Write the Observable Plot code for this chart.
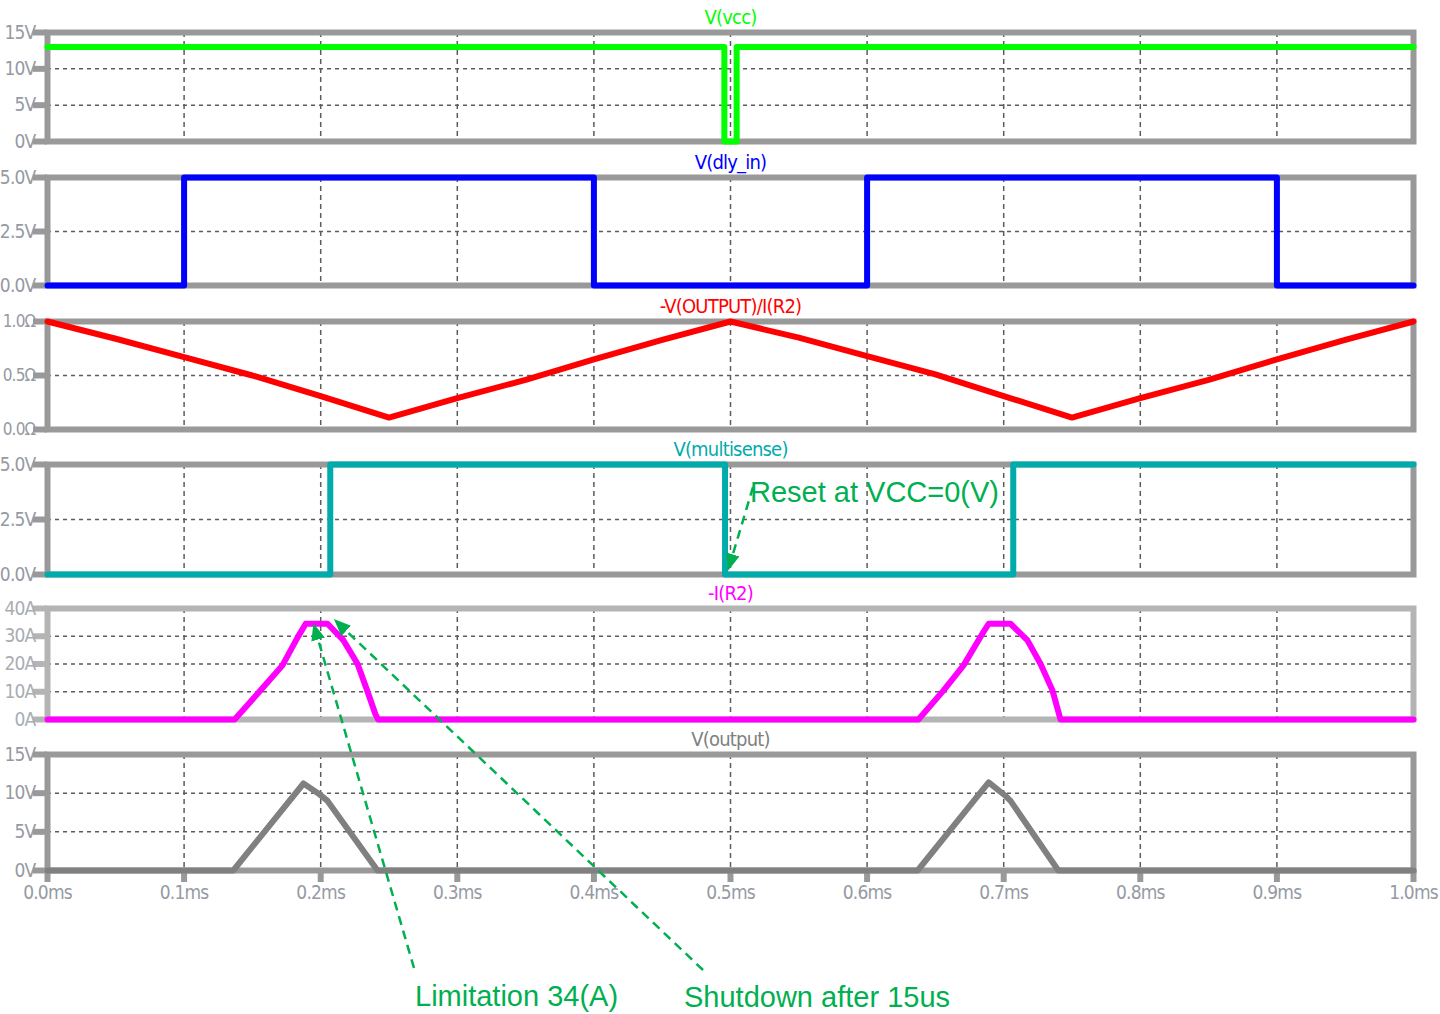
<!DOCTYPE html>
<html><head><meta charset="utf-8">
<script src="https://cdn.jsdelivr.net/npm/d3@7"></script>
<script src="https://cdn.jsdelivr.net/npm/@observablehq/plot@0.6"></script>
<style>
body{margin:0;background:#fff;}
#root{position:relative;width:1440px;height:1014px;overflow:hidden;background:#fff;}
#root svg{position:absolute;left:0;}
</style></head><body><div id="root"></div>
<script>
// ---------- data ----------
const xTicks = [0,0.1,0.2,0.3,0.4,0.5,0.6,0.7,0.8,0.9,1.0];
const xTickLabels = ["0.0ms","0.1ms","0.2ms","0.3ms","0.4ms","0.5ms","0.6ms","0.7ms","0.8ms","0.9ms","1.0ms"];

// V(vcc)
const vccT = [0, 0.4955, 0.5045, 1.0];
const vccV = [13, 0, 13, 13];
const vccTicks = [0, 5, 10, 15];
const vccLabels = ["0V", "5V", "10V", "15V"];

// V(dly_in)
const dlyT = [0, 0.1, 0.4, 0.6, 0.9, 1.0];
const dlyV = [0, 5, 0, 5, 0, 0];
const dlyTicks = [0, 2.5, 5];
const dlyLabels = ["0.0V", "2.5V", "5.0V"];

// -V(OUTPUT)/I(R2)
const resT = [0,0.05,0.1,0.15,0.2,0.25,0.3,0.35,0.4,0.45,0.5,0.55,0.6,0.65,0.7,0.75,0.8,0.85,0.9,0.95,1.0];
const resV = [1.0,0.84,0.67,0.5,0.31,0.11,0.29,0.46,0.65,0.83,1.0,0.85,0.68,0.51,0.31,0.11,0.29,0.46,0.65,0.83,1.0];
const resTicks = [0, 0.5, 1];
const resLabels = ["0.0Ω", "0.5Ω", "1.0Ω"];

// V(multisense)
const msT = [0, 0.207, 0.496, 0.707, 1.0];
const msV = [0, 5, 0, 5, 5];
const msTicks = [0, 2.5, 5];
const msLabels = ["0.0V", "2.5V", "5.0V"];

// -I(R2)
const iT = [0,0.137,0.156,0.172,0.183,0.189,0.205,0.2167,0.227,0.234,0.240,0.242,0.6376,0.656,0.6706,0.6845,0.689,0.705,0.7174,0.727,0.7357,0.7416,1.0];
const iV = [0,0,10.5,19.5,29.5,34.5,34.5,28.5,20,10.5,2,0,0,10.5,19.5,31,34.5,34.5,28.5,20,10.5,0,0];
const iTicks = [0, 10, 20, 30, 40];
const iLabels = ["0A", "10A", "20A", "30A", "40A"];

// V(output)
const voT = [0,0.136,0.1874,0.198,0.205,0.2416,0.637,0.689,0.701,0.705,0.740,1.0];
const voV = [0,0,11.25,10,9,0,0,11.4,9.7,9,0,0];
const voTicks = [0, 5, 10, 15];
const voLabels = ["0V", "5V", "10V", "15V"];

// annotations
const annTexts = ["Reset at VCC=0(V)", "Limitation 34(A)", "Shutdown after 15us"];
const annTipPanel = [3, 4, 4];
const annTipT = [0.4985, 0.195, 0.210];
const annTipV = [0.15, 34.5, 36];

// ---------- layout ----------
const FONT = "'Liberation Sans Narrow','DejaVu Sans Condensed','DejaVu Sans',sans-serif";
const GREEN = "#00b050";
const panels = [
  {title:"V(vcc)", color:"#00ff00", T:vccT, V:vccV, curve:"step-after", domain:[0,15], ticks:vccTicks, labels:vccLabels, top:32, bottom:141},
  {title:"V(dly_in)", color:"#0000ff", T:dlyT, V:dlyV, curve:"step-after", domain:[0,5], ticks:dlyTicks, labels:dlyLabels, top:177, bottom:285},
  {title:"-V(OUTPUT)/I(R2)", color:"#ff0000", T:resT, V:resV, curve:"linear", domain:[0,1], ticks:resTicks, labels:resLabels, top:321, bottom:429, tickFont:17},
  {title:"V(multisense)", color:"#00abab", T:msT, V:msV, curve:"step-after", domain:[0,5], ticks:msTicks, labels:msLabels, top:464, bottom:574},
  {title:"-I(R2)", color:"#ff00ff", T:iT, V:iV, curve:"linear", domain:[0,40], ticks:iTicks, labels:iLabels, top:608, bottom:719, frame:"#b4b4b4", label:"#a9adb5"},
  {title:"V(output)", color:"#808080", T:voT, V:voV, curve:"linear", domain:[0,15], ticks:voTicks, labels:voLabels, top:754, bottom:870, last:true}
];

const root = document.getElementById("root");
const plots = [];
const svgTops = [];
panels.forEach(p => {
  const mt = 30, mb = p.last ? 46 : 6;
  const frameColor = p.frame || "#999999";
  const labelColor = p.label || "#959aa4";
  const data = p.T.map((t, i) => ({t, v: p.V[i]}));
  const inner = p.ticks.filter(d => d !== p.domain[0] && d !== p.domain[1]);
  const plot = Plot.plot({
    width: 1440, height: mt + (p.bottom - p.top) + mb,
    marginLeft: 47, marginRight: 27, marginTop: mt, marginBottom: mb,
    x: {domain: [0, 1], axis: null},
    y: {domain: p.domain, axis: null},
    style: {fontFamily: FONT, fontSize: "19px", fontStretch: "condensed", letterSpacing: "-0.8px",
            background: "transparent", overflow: "visible"},
    marks: [
      Plot.gridX(xTicks.slice(1, -1), {stroke: "#5c5c5c", strokeOpacity: 1, strokeWidth: 1.5, strokeDasharray: "5,4"}),
      Plot.gridY(inner, {stroke: "#5c5c5c", strokeOpacity: 1, strokeWidth: 1.5, strokeDasharray: "4,4"}),
      Plot.frame({stroke: frameColor, strokeWidth: 6}),
      Plot.axisY(p.ticks, {label: null, tickSize: 14, tickPadding: -2, tickFormat: d => p.labels[p.ticks.indexOf(d)],
        stroke: frameColor, strokeWidth: 6, fill: labelColor, fontSize: p.tickFont || 19}),
      p.last ? Plot.axisX(xTicks, {label: null, tickSize: 12, tickPadding: 3, tickFormat: d => xTickLabels[xTicks.indexOf(d)],
        stroke: frameColor, strokeWidth: 6, fill: labelColor, fontSize: 19}) : null,
      Plot.line(data, {x: "t", y: "v", stroke: p.color, strokeWidth: 6, curve: p.curve}),
      Plot.text([p.title], {text: d => d, frameAnchor: "top", lineAnchor: "middle", dy: -15, fill: p.color, fontSize: 20})
    ]
  });
  const top = p.top - mt;
  plot.style.top = top + "px";
  root.appendChild(plot);
  plots.push(plot);
  svgTops.push(top);
});

// ---------- annotation overlay ----------
const tails = [[753, 487], [414, 968], [703, 970]];
const textPos = [[750, 502], [415, 1006], [684, 1007]];
const ann = d3.create("svg").attr("width", 1440).attr("height", 1014)
  .style("top", "0px").style("pointer-events", "none");
ann.append("defs").append("marker")
  .attr("id", "ah").attr("markerUnits", "userSpaceOnUse")
  .attr("markerWidth", 18).attr("markerHeight", 14)
  .attr("refX", 17).attr("refY", 7).attr("orient", "auto")
  .append("path").attr("d", "M0,0 L17,7 L0,14 Z").attr("fill", GREEN);
annTexts.forEach((txt, i) => {
  const pl = plots[annTipPanel[i]];
  const tx = pl.scale("x").apply(annTipT[i]);
  const ty = pl.scale("y").apply(annTipV[i]) + svgTops[annTipPanel[i]];
  ann.append("line")
    .attr("x1", tails[i][0]).attr("y1", tails[i][1]).attr("x2", tx).attr("y2", ty)
    .attr("stroke", GREEN).attr("stroke-width", 2.5).attr("stroke-dasharray", "9,6")
    .attr("marker-end", "url(#ah)");
  ann.append("text").attr("x", textPos[i][0]).attr("y", textPos[i][1])
    .attr("fill", GREEN).attr("font-family", "'Liberation Sans',Arial,sans-serif").attr("font-size", 29)
    .text(txt);
});
root.appendChild(ann.node());
</script></body></html>
